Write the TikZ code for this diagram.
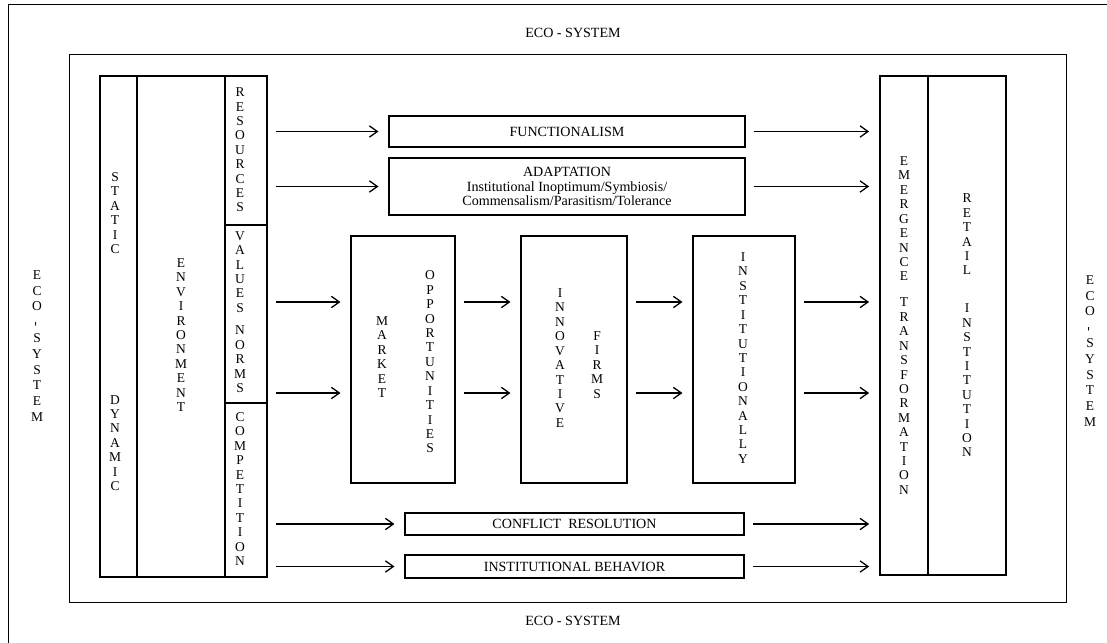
\documentclass[tikz,border=0pt]{standalone}
\usepackage{fontspec}
\setmainfont{Liberation Serif}
\usetikzlibrary{arrows.meta}

\tikzset{
  vtxt/.style={align=center, inner sep=0pt, font=\fontsize{11.5}{12.3}\selectfont},
  htxt/.style={align=center, inner sep=0pt, font=\fontsize{12}{13}\selectfont},
  thinframe/.style={draw, line width=0.7pt},
  colbox/.style={draw, line width=1.5pt, inner sep=0pt},
  stagebox/.style={draw, line width=0.9pt, inner sep=0pt, align=center, font=\fontsize{12}{12.5}\selectfont},
  flow/.style={-{Straight Barb[length=2.4mm,width=3.4mm]}, line width=1.1pt, shorten <=0.25cm, shorten >=0.3cm},
}

\begin{document}
\begin{tikzpicture}[x=0.03cm, y=-0.03cm]
  \useasboundingbox (0,0) rectangle (1107,643);

  % eco-system frames
  \draw[thinframe] (8,643) -- (8,4) -- (1107,4);
  \draw[thinframe] (69,54) rectangle (1066,602);

  \node[htxt] (ecotop) at (573,33) {ECO - SYSTEM};
  \node[htxt] (ecobot) at (573,621) {ECO - SYSTEM};
  \node[vtxt, font=\fontsize{11.5}{13.5}\selectfont] (ecoleft)  at (37,346)  {E\\C\\O\\\rotatebox{90}{-}\\S\\Y\\S\\T\\E\\M};
  \node[vtxt, font=\fontsize{11.5}{13.5}\selectfont] (ecoright) at (1090,351) {E\\C\\O\\\rotatebox{90}{-}\\S\\Y\\S\\T\\E\\M};

  % environment column
  \node[colbox, minimum width=1.11cm, minimum height=15.03cm] (sd)  at (118.5,326.5) {};
  \node[colbox, minimum width=2.64cm, minimum height=15.03cm] (env) at (181,326.5) {};
  \node[colbox, minimum width=1.26cm, minimum height=4.47cm]  (res) at (246,150.5) {};
  \node[colbox, minimum width=1.26cm, minimum height=5.34cm]  (val) at (246,314) {};
  \node[colbox, minimum width=1.26cm, minimum height=5.22cm]  (com) at (246,490) {};

  \node[vtxt] (static)  at (115,213) {S\\T\\A\\T\\I\\C};
  \node[vtxt] (dynamic) at (115,443) {D\\Y\\N\\A\\M\\I\\C};
  \node[vtxt] (envtxt)  at (181,335) {E\\N\\V\\I\\R\\O\\N\\M\\E\\N\\T};
  \node[vtxt] (restxt)  at (240,150) {R\\E\\S\\O\\U\\R\\C\\E\\S};
  \node[vtxt] (valtxt)  at (240,312) {V\\A\\L\\U\\E\\S\\[7pt]N\\O\\R\\M\\S};
  \node[vtxt] (comtxt)  at (240,489) {C\\O\\M\\P\\E\\T\\I\\T\\I\\O\\N};

  % horizontal stages
  \node[stagebox, minimum width=10.68cm, minimum height=0.93cm] (fun) at (567,131.5) {FUNCTIONALISM};
  \node[stagebox, minimum width=10.68cm, minimum height=1.71cm] (adp) at (567,186.5)
    {ADAPTATION\\Institutional Inoptimum/Symbiosis/\\Commensalism/Parasitism/Tolerance};
  \node[stagebox, minimum width=10.17cm, minimum height=0.66cm] (con) at (574.5,524) {CONFLICT\ \ RESOLUTION};
  \node[stagebox, minimum width=10.17cm, minimum height=0.69cm] (beh) at (574.5,566.5) {INSTITUTIONAL BEHAVIOR};

  % vertical stages
  \node[stagebox, minimum width=3.12cm, minimum height=7.41cm] (mkt) at (403,359.5) {};
  \node[stagebox, minimum width=3.18cm, minimum height=7.41cm] (inv) at (574,359.5) {};
  \node[stagebox, minimum width=3.06cm, minimum height=7.41cm] (ins) at (744,359.5) {};

  \node[vtxt] (mkttxt) at (382,357) {M\\A\\R\\K\\E\\T};
  \node[vtxt] (opptxt) at (430,362) {O\\P\\P\\O\\R\\T\\U\\N\\I\\T\\I\\E\\S};
  \node[vtxt] (invtxt) at (560,358) {I\\N\\N\\O\\V\\A\\T\\I\\V\\E};
  \node[vtxt] (firtxt) at (597,365) {F\\I\\R\\M\\S};
  \node[vtxt] (instxt) at (743,358) {I\\N\\S\\T\\I\\T\\U\\T\\I\\O\\N\\A\\L\\L\\Y};

  % retail column
  \node[colbox, vtxt, minimum width=1.44cm, minimum height=14.97cm] (emt) at (904,325.5)
    {E\\M\\E\\R\\G\\E\\N\\C\\E\\[10pt]T\\R\\A\\N\\S\\F\\O\\R\\M\\A\\T\\I\\O\\N};
  \node[colbox, vtxt, minimum width=2.34cm, minimum height=14.97cm] (ret) at (967,325.5)
    {R\\E\\T\\A\\I\\L\\[20pt]I\\N\\S\\T\\I\\T\\U\\T\\I\\O\\N};

  % rows of the middle arrows
  \coordinate (r1) at (0,302);
  \coordinate (r2) at (0,393);

  % arrows in
  \draw[flow] (res.east |- fun.west) -- (fun.west);
  \draw[flow] (res.east |- adp.west) -- (adp.west);
  \draw[flow] (val.east |- r1) -- (mkt.west |- r1);
  \draw[flow] (val.east |- r2) -- (mkt.west |- r2);
  \draw[flow] (com.east |- con.west) -- (con.west);
  \draw[flow] (com.east |- beh.west) -- (beh.west);

  % arrows between stages
  \draw[flow] (mkt.east |- r1) -- (inv.west |- r1);
  \draw[flow] (mkt.east |- r2) -- (inv.west |- r2);
  \draw[flow] (inv.east |- r1) -- (ins.west |- r1);
  \draw[flow] (inv.east |- r2) -- (ins.west |- r2);

  % arrows out
  \draw[flow] (fun.east) -- (emt.west |- fun.east);
  \draw[flow] (adp.east) -- (emt.west |- adp.east);
  \draw[flow] (ins.east |- r1) -- (emt.west |- r1);
  \draw[flow] (ins.east |- r2) -- (emt.west |- r2);
  \draw[flow] (con.east) -- (emt.west |- con.east);
  \draw[flow] (beh.east) -- (emt.west |- beh.east);
\end{tikzpicture}
\end{document}
